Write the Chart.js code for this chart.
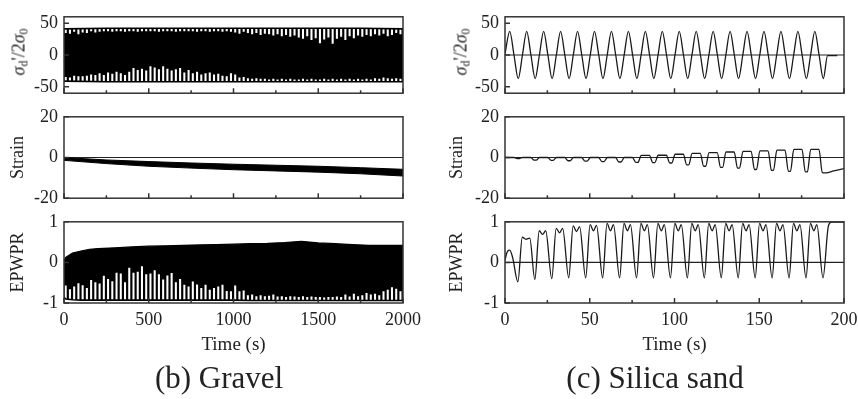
<!DOCTYPE html>
<html>
<head>
<meta charset="utf-8">
<script src="https://cdn.jsdelivr.net/npm/chart.js@4.4.0/dist/chart.umd.min.js"></script>
<style>
  body { margin: 0; width: 858px; height: 399px; overflow: hidden; background: #fff; position: relative;
         font-family: 'Liberation Serif', serif; color: #222; }
  canvas { position: absolute; }
  .ylab { position: absolute; transform: translate(-50%, -50%) rotate(-90deg); font-size: 18px; white-space: nowrap; }
  .ylab sub { font-size: 12px; vertical-align: -3px; font-style: normal; }
  .cap { position: absolute; transform: translate(-50%, -50%); font-size: 31px; white-space: nowrap; }
</style>
</head>
<body>
<canvas id="g1" width="430" height="110" style="left:0;top:0"></canvas>
<canvas id="g2" width="430" height="115" style="left:0;top:100px"></canvas>
<canvas id="g3" width="430" height="160" style="left:0;top:205px"></canvas>
<canvas id="s1" width="440" height="110" style="left:430px;top:0"></canvas>
<canvas id="s2" width="440" height="115" style="left:430px;top:100px"></canvas>
<canvas id="s3" width="440" height="160" style="left:430px;top:205px"></canvas>

<div class="ylab" style="left:20px;top:52px"><i>σ</i><sub>d</sub>'/2<i>σ</i><sub>0</sub></div>
<div class="ylab" style="left:462px;top:52px"><i>σ</i><sub>d</sub>'/2<i>σ</i><sub>0</sub></div>
<div class="cap" style="left:219px;top:378px">(b) Gravel</div>
<div class="cap" style="left:655px;top:378px">(c) Silica sand</div>

<script>
// ---- tick values ----
const stressTicks = [-50, 0, 50];
const strainTicks = [-20, 0, 20];
const pwpTicks = [-1, 0, 1];
const gravelTimeTicks = [0, 250, 500, 750, 1000, 1250, 1500, 1750, 2000];
const sandTimeTicks = [0, 25, 50, 75, 100, 125, 150, 175, 200];

// ---- (b) Gravel: envelopes of the dense cyclic record ----
const gravelEnvTime = [0, 250, 500, 750, 1000, 1250, 1500, 1750, 2000];
const gravelStressTop = [41, 42, 42, 42, 42, 42, 42, 42, 41];
const gravelStressBottom = [-41, -42, -42, -42, -42, -42, -42, -42, -42];
const gravelStrainTop = [0, -1.2, -2.0, -2.7, -3.3, -3.8, -4.3, -5.0, -5.8];
const gravelStrainBottom = [-1.4, -3.0, -4.3, -5.2, -6.0, -6.6, -7.2, -8.0, -9.1];

const gravelPwpTime = [0, 10, 50, 100, 150, 200, 300, 400, 500, 600, 700, 800, 900, 1000,
  1100, 1200, 1300, 1400, 1500, 1600, 1700, 1800, 1900, 2000];
const gravelPwpTop = [0.05, 0.12, 0.23, 0.28, 0.32, 0.34, 0.36, 0.38, 0.40, 0.41, 0.42, 0.43, 0.44, 0.45,
  0.46, 0.47, 0.49, 0.52, 0.48, 0.46, 0.44, 0.42, 0.42, 0.42];
const gravelPwpBottom = [-0.86, -0.90, -0.92, -0.93, -0.93, -0.93, -0.93, -0.93, -0.93, -0.93, -0.93, -0.93, -0.93, -0.93,
  -0.94, -0.94, -0.94, -0.94, -0.94, -0.94, -0.94, -0.94, -0.94, -0.94];

// single cycles whose peak falls short of the envelope (the white spikes)
const gravelCycleTime = [
  10, 35, 60, 85, 110, 135, 160, 185, 210, 235,
  260, 285, 310, 335, 360, 385, 410, 435, 460, 485,
  510, 535, 560, 585, 610, 635, 660, 685, 710, 735,
  760, 785, 810, 835, 860, 885, 910, 935, 960, 985,
  1010, 1035, 1060, 1085, 1110, 1135, 1160, 1185, 1210, 1235,
  1260, 1285, 1310, 1335, 1360, 1385, 1410, 1435, 1460, 1485,
  1510, 1535, 1560, 1585, 1610, 1635, 1660, 1685, 1710, 1735,
  1760, 1785, 1810, 1835, 1860, 1885, 1910, 1935, 1960, 1985];
const gravelStressPeakHi = [
  35, 34, 37, 33, 36, 35, 38, 36, 37, 38,
  38, 37, 38, 38, 37, 38, 38, 37, 38, 38,
  38, 38, 37, 38, 38, 38, 37, 38, 38, 38,
  38, 37, 38, 38, 37, 38, 38, 37, 38, 37,
  36, 34, 37, 35, 33, 35, 32, 34, 33, 31,
  33, 30, 32, 29, 31, 28, 26, 30, 24, 27,
  19, 25, 28, 18, 26, 29, 24, 30, 27, 31,
  29, 32, 30, 33, 31, 34, 30, 32, 35, 33];
const gravelStressPeakLo = [
  -35, -36, -33, -34, -34, -33, -31, -32, -29, -32,
  -28, -30, -27, -29, -32, -27, -21, -24, -22, -25,
  -18, -20, -23, -18, -22, -25, -23, -21, -28, -24,
  -29, -27, -31, -29, -28, -31, -30, -33, -34, -29,
  -31, -36, -35, -37, -38, -37, -38, -38, -39, -38,
  -39, -38, -39, -38, -39, -39, -38, -39, -38, -39,
  -39, -38, -39, -38, -39, -38, -39, -38, -39, -38,
  -39, -38, -39, -37, -38, -36, -37, -38, -37, -38];
const gravelPwpPeakLo = [
  -0.58, -0.67, -0.60, -0.52, -0.57, -0.64, -0.44, -0.50, -0.53, -0.34,
  -0.42, -0.47, -0.26, -0.28, -0.50, -0.14, -0.26, -0.24, -0.10, -0.30,
  -0.28, -0.20, -0.30, -0.43, -0.33, -0.27, -0.50, -0.42, -0.56, -0.60,
  -0.48, -0.55, -0.64, -0.56, -0.68, -0.64, -0.60, -0.56, -0.71, -0.72,
  -0.58, -0.72, -0.70, -0.82, -0.80, -0.84, -0.82, -0.84, -0.83, -0.80,
  -0.85, -0.84, -0.86, -0.84, -0.85, -0.86, -0.84, -0.86, -0.85, -0.86,
  -0.86, -0.87, -0.86, -0.86, -0.85, -0.86, -0.80, -0.85, -0.78, -0.84,
  -0.82, -0.76, -0.80, -0.78, -0.82, -0.72, -0.68, -0.62, -0.66, -0.72];

// ---- (c) Silica sand ----
const sandStressTime = [0,
  2.8, 5.3, 7.8, 10.3, 12.8, 15.3, 17.8, 20.3, 22.8, 25.3, 27.8, 30.3, 32.8, 35.3, 37.8, 40.3,
  42.8, 45.3, 47.8, 50.3, 52.8, 55.3, 57.8, 60.3, 62.8, 65.3, 67.8, 70.3, 72.8, 75.3, 77.8, 80.3,
  82.8, 85.3, 87.8, 90.3, 92.8, 95.3, 97.8, 100.3, 102.8, 105.3, 107.8, 110.3, 112.8, 115.3, 117.8, 120.3,
  122.8, 125.3, 127.8, 130.3, 132.8, 135.3, 137.8, 140.3, 142.8, 145.3, 147.8, 150.3, 152.8, 155.3, 157.8, 160.3,
  162.8, 165.3, 167.8, 170.3, 172.8, 175.3, 177.8, 180.3, 182.8, 185.3, 187.8, 190.3, 196];
const sandStress = [2,
  37, 0, -37, 0, 37, 0, -37, 0, 37, 0, -37, 0, 37, 0, -37, 0,
  37, 0, -37, 0, 37, 0, -37, 0, 37, 0, -37, 0, 37, 0, -37, 0,
  37, 0, -37, 0, 37, 0, -37, 0, 37, 0, -37, 0, 37, 0, -37, 0,
  37, 0, -37, 0, 37, 0, -37, 0, 37, 0, -37, 0, 37, 0, -37, 0,
  37, 0, -37, 0, 37, 0, -37, 0, 37, 0, -37, -1, -1];

const sandStrainTime = [0,
  0.4, 5.2, 7.2, 8.4, 10.4, 15.2, 17.2, 18.4, 20.4, 25.2, 27.2, 28.4, 30.4, 35.2, 37.2, 38.4,
  40.4, 45.2, 47.2, 48.4, 50.4, 55.2, 57.2, 58.4, 60.4, 65.2, 67.2, 68.4, 70.4, 75.2, 77.2, 78.4,
  80.4, 85.2, 87.2, 88.4, 90.4, 95.2, 97.2, 98.4, 100.4, 105.2, 107.2, 108.4, 110.4, 115.2, 117.2, 118.4,
  120.4, 125.2, 127.2, 128.4, 130.4, 135.2, 137.2, 138.4, 140.4, 145.2, 147.2, 148.4, 150.4, 155.2, 157.2, 158.4,
  160.4, 165.2, 167.2, 168.4, 170.4, 175.2, 177.2, 178.4, 180.4, 185.2, 187.2, 188.4, 194, 200];
const sandStrain = [0,
  0, 0, -0.5, -0.5, 0, 0, -1.3, -1.3, 0, 0, -1.4, -1.4, 0, 0, -1.6, -1.6,
  0, 0, -1.8, -1.8, 0, 0, -2.0, -2.0, 0, 0, -2.2, -2.2, 0, 0, -2.4, -2.4,
  1.0, 1.0, -2.5, -2.5, 1.1, 1.1, -2.7, -2.7, 1.6, 1.6, -3.6, -3.6, 2.0, 2.0, -4.3, -4.3,
  2.4, 2.4, -4.9, -4.9, 2.7, 2.7, -5.2, -5.2, 3.0, 3.0, -5.9, -5.9, 3.3, 3.3, -6.3, -6.3,
  3.6, 3.6, -6.8, -6.8, 4.0, 4.0, -7.1, -7.1, 4.0, 4.0, -7.4, -7.6, -6.6, -5.5];

const sandPwpTime = [0, 1.2, 2.8, 4.5, 7.6,
  10.2, 12.4, 14.6, 17.6, 20.2, 22.2, 24.0, 27.6, 30.2, 32.2, 34.0, 37.6,
  40.2, 42.2, 44.0, 47.6, 50.2, 52.2, 54.0, 57.6, 60.2, 62.2, 64.0, 67.6,
  70.2, 72.2, 74.0, 77.6, 80.2, 82.2, 84.0, 87.6, 90.2, 92.2, 94.0, 97.6,
  100.2, 102.2, 104.0, 107.6, 110.2, 112.2, 114.0, 117.6, 120.2, 122.2, 124.0, 127.6,
  130.2, 132.2, 134.0, 137.6, 140.2, 142.2, 144.0, 147.6, 150.2, 152.2, 154.0, 157.6,
  160.2, 162.2, 164.0, 167.6, 170.2, 172.2, 174.0, 177.6, 180.2, 182.2, 184.0, 187.6,
  190.8, 192.6, 200];
const sandPwp = [0.05, 0.25, 0.30, 0.12, -0.48,
  0.62, 0.57, 0.60, -0.42, 0.78, 0.69, 0.78, -0.40, 0.84, 0.73, 0.84, -0.38,
  0.90, 0.76, 0.88, -0.38, 0.93, 0.78, 0.91, -0.38, 0.96, 0.78, 0.93, -0.38,
  0.96, 0.78, 0.93, -0.38, 0.96, 0.78, 0.93, -0.38, 0.96, 0.78, 0.93, -0.38,
  0.96, 0.78, 0.93, -0.38, 0.96, 0.78, 0.93, -0.38, 0.96, 0.78, 0.93, -0.38,
  0.96, 0.78, 0.93, -0.38, 0.96, 0.78, 0.93, -0.38, 0.96, 0.78, 0.93, -0.38,
  0.96, 0.78, 0.93, -0.38, 0.96, 0.78, 0.93, -0.38, 0.96, 0.78, 0.93, -0.38,
  0.90, 0.99, 0.99];

Chart.defaults.font.family = "'Liberation Serif', serif";
Chart.defaults.color = '#222';

const pts = (xs, ys) => xs.map((x, i) => ({ x: x, y: ys[i] }));
const line = (xs, ys, extra) => Object.assign({
  data: pts(xs, ys), borderColor: '#111', borderWidth: 1.3, pointRadius: 0, fill: false, tension: 0
}, extra);
const spikes = (xs, ys, base) => ({
  type: 'bar', data: pts(xs, ys), base: base, backgroundColor: '#fff', borderWidth: 0,
  barThickness: 1.4, grouped: false, order: 2
});

// box, inward ticks and the zero line
const frame = {
  id: 'frame',
  beforeDatasetsDraw(chart) {
    const { ctx, chartArea: a, scales: { y } } = chart;
    const y0 = y.getPixelForValue(0);
    ctx.save();
    ctx.strokeStyle = '#222';
    ctx.lineWidth = 1.2;
    ctx.beginPath();
    ctx.moveTo(a.left, y0);
    ctx.lineTo(a.right, y0);
    ctx.stroke();
    ctx.restore();
  },
  afterDraw(chart, args, opts) {
    const { ctx, chartArea: a, scales: { x, y } } = chart;
    ctx.save();
    ctx.strokeStyle = '#333';
    ctx.lineWidth = 1.5;
    ctx.strokeRect(a.left, a.top, a.right - a.left, a.bottom - a.top);
    ctx.beginPath();
    x.ticks.forEach(t => {
      const px = x.getPixelForValue(t.value);
      const len = t.value % opts.major === 0 ? 5 : 3;
      ctx.moveTo(px, a.bottom);
      ctx.lineTo(px, a.bottom - len);
    });
    y.ticks.forEach(t => {
      const py = y.getPixelForValue(t.value);
      ctx.moveTo(a.left, py);
      ctx.lineTo(a.left + 5, py);
    });
    ctx.stroke();
    ctx.restore();
  }
};

function panel(id, o) {
  return new Chart(document.getElementById(id), {
    type: 'line',
    data: { datasets: o.datasets },
    options: {
      responsive: false,
      animation: false,
      events: [],
      layout: { padding: { top: o.top, right: o.right, left: 0, bottom: 0 } },
      plugins: { legend: { display: false }, tooltip: { enabled: false }, frame: { major: o.major } },
      scales: {
        x: {
          type: 'linear', min: 0, max: o.xMax, offset: false,
          grid: { display: false, drawTicks: false }, border: { display: false },
          afterBuildTicks: s => { s.ticks = o.xTicks.map(v => ({ value: v })); },
          ticks: {
            display: o.labels, autoSkip: false, maxRotation: 0, padding: 6,
            font: { size: 18 }, callback: v => (v % o.major === 0 ? v : '')
          },
          title: { display: o.labels, text: 'Time (s)', font: { size: 19 }, padding: { top: 0, bottom: 9 } },
          afterFit: s => { s.height = o.axisH; }
        },
        y: {
          min: o.yMin, max: o.yMax,
          grid: { display: false, drawTicks: false }, border: { display: false },
          afterBuildTicks: s => { s.ticks = o.yTicks.map(v => ({ value: v })); },
          ticks: { padding: 6, font: { size: 18 } },
          title: { display: !!o.yTitle, text: o.yTitle || '', font: { size: 18 }, padding: { top: o.titlePad, bottom: 0 } },
          afterFit: s => { s.width = o.axisW; }
        }
      }
    },
    plugins: [frame]
  });
}

const left = { xMax: 2000, major: 500, xTicks: gravelTimeTicks, right: 27, axisW: 64, titlePad: 7 };
const right = { xMax: 200, major: 50, xTicks: sandTimeTicks, right: 26, axisW: 75, titlePad: 16 };
const row1 = { top: 13, axisH: 14, labels: false, yMin: -60, yMax: 60, yTicks: stressTicks };
const row2 = { top: 16, axisH: 15, labels: false, yMin: -20, yMax: 20, yTicks: strainTicks, yTitle: 'Strain' };
const row3 = { top: 15, axisH: 62, labels: true, yMin: -1, yMax: 1, yTicks: pwpTicks, yTitle: 'EPWPR' };

panel('g1', Object.assign({}, left, row1, { datasets: [
  line(gravelEnvTime, gravelStressTop, { order: 3, borderWidth: 0, fill: '+1', backgroundColor: '#000' }),
  line(gravelEnvTime, gravelStressBottom, { order: 3, borderWidth: 0 }),
  spikes(gravelCycleTime, gravelStressPeakHi, 60),
  spikes(gravelCycleTime, gravelStressPeakLo, -60),
  line(gravelEnvTime, gravelStressTop, { order: 1, borderWidth: 1.6, borderColor: '#000' }),
  line(gravelEnvTime, gravelStressBottom, { order: 1, borderWidth: 1.6, borderColor: '#000' })
] }));

panel('g2', Object.assign({}, left, row2, { datasets: [
  line(gravelEnvTime, gravelStrainTop, { borderWidth: 1, borderColor: '#000', fill: '+1', backgroundColor: '#000' }),
  line(gravelEnvTime, gravelStrainBottom, { borderWidth: 1, borderColor: '#000' })
] }));

panel('g3', Object.assign({}, left, row3, { datasets: [
  line(gravelPwpTime, gravelPwpTop, { order: 3, borderWidth: 0, fill: '+1', backgroundColor: '#000' }),
  line(gravelPwpTime, gravelPwpBottom, { order: 3, borderWidth: 0 }),
  spikes(gravelCycleTime, gravelPwpPeakLo, -1),
  line(gravelPwpTime, gravelPwpTop, { order: 1, borderWidth: 1.2, borderColor: '#000' }),
  line(gravelPwpTime, gravelPwpBottom, { order: 1, borderWidth: 1.6, borderColor: '#000' })
] }));

const sandLine = { cubicInterpolationMode: 'monotone', borderWidth: 1.3, borderColor: '#1a1a1a' };
panel('s1', Object.assign({}, right, row1, { datasets: [line(sandStressTime, sandStress, sandLine)] }));
panel('s2', Object.assign({}, right, row2, { datasets: [line(sandStrainTime, sandStrain, sandLine)] }));
panel('s3', Object.assign({}, right, row3, { datasets: [line(sandPwpTime, sandPwp, sandLine)] }));
</script>
</body>
</html>
